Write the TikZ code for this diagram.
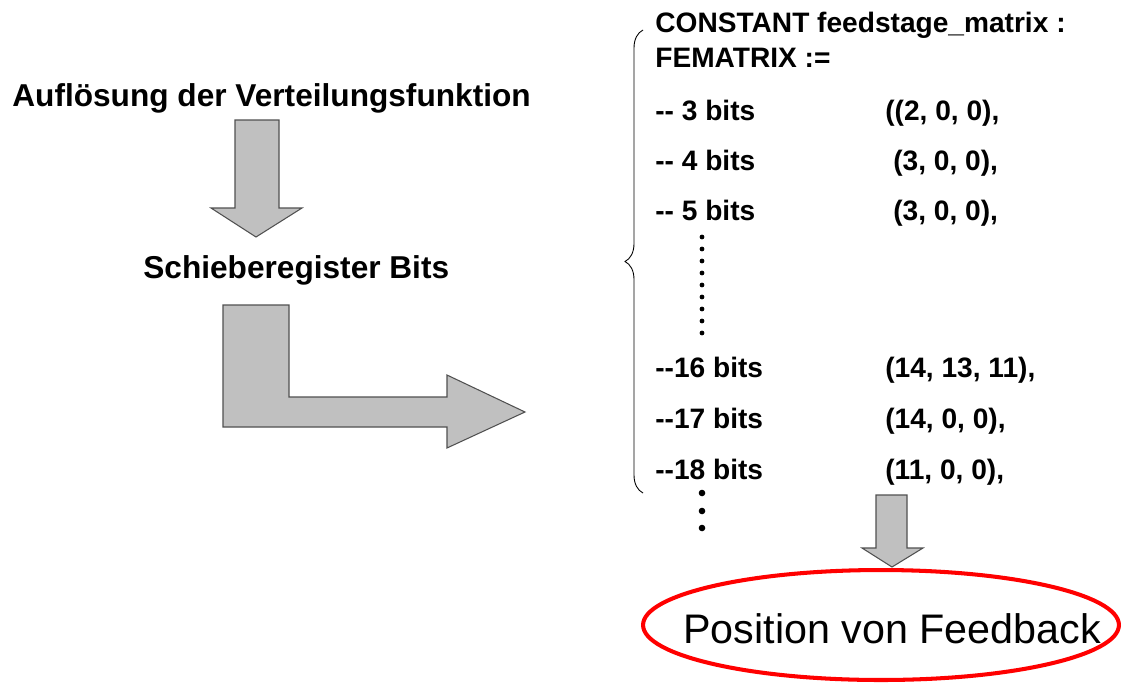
\documentclass[tikz,border=0pt]{standalone}
\usepackage{fontspec}
\setmainfont{Liberation Sans}
\usetikzlibrary{decorations.pathreplacing}
\definecolor{arrgray}{RGB}{192,192,192}
\definecolor{arredge}{RGB}{80,80,80}
\definecolor{ovalred}{RGB}{255,0,0}

\begin{document}
\begin{tikzpicture}[x=0.02cm,y=-0.02cm,
  blockarrow/.style={fill=arrgray,draw=arredge,line width=0.6pt},
  headline/.style={font=\bfseries\fontsize{18}{20}\selectfont,inner sep=0pt,anchor=base west},
  codeline/.style={font=\bfseries\fontsize{16}{18}\selectfont,inner sep=0pt,anchor=base west}]
  \useasboundingbox (0,0) rectangle (1122,684);
  % left side
  \node[headline] (aufl) at (12,106) {Auflösung der Verteilungsfunktion};
  \node[headline] (schieb) at (143,278) {Schieberegister Bits};
  \draw[blockarrow] (235,120) -- (279,120) -- (279,208) -- (302,208) -- (256,237)
    -- (211,208) -- (235,208) -- cycle;
  \draw[blockarrow] (223,305) -- (289,305) -- (289,397) -- (447,397) -- (447,375)
    -- (525,412) -- (447,448) -- (447,427) -- (223,427) -- cycle;
  % right side: the matrix
  \draw[decorate,decoration={brace,amplitude=0.36cm},line width=0.5pt] (643,493) -- (643,30);
  \node[codeline] (const) at (655,32) {CONSTANT feedstage\_matrix :};
  \node[codeline] (femat) at (655,67) {FEMATRIX :=};
  \node[codeline] (b3) at (655,120) {-{}- 3 bits};
  \node[codeline] (b4) at (655,170) {-{}- 4 bits};
  \node[codeline] (b5) at (655,220) {-{}- 5 bits};
  \node[codeline] (b16) at (655,377) {-{}-16 bits};
  \node[codeline] (b17) at (655,428) {-{}-17 bits};
  \node[codeline] (b18) at (655,479) {-{}-18 bits};
  \node[codeline] (v3) at (885,120) {((2, 0, 0),};
  \node[codeline] (v4) at (893,170) {(3, 0, 0),};
  \node[codeline] (v5) at (893,220) {(3, 0, 0),};
  \node[codeline] (v16) at (885,377) {(14, 13, 11),};
  \node[codeline] (v17) at (885,428) {(14, 0, 0),};
  \node[codeline] (v18) at (885,479) {(11, 0, 0),};
  \foreach \yy in {237,249,261,273,285,297,309,321,333}
    \fill (702,\yy) circle (2.4);
  \foreach \yy in {493,511,528}
    \fill (702,\yy) circle (3.3);
  % result
  \draw[blockarrow] (876,495) -- (907,495) -- (907,548) -- (923,548) -- (892,567)
    -- (862,548) -- (876,548) -- cycle;
  \draw[ovalred,line width=2.3pt] (881,625) ellipse [x radius=4.76cm,y radius=1.1cm];
  \node[inner sep=0pt,anchor=base west,font=\fontsize{23.5}{26}\selectfont] (pos) at (683,643) {Position von Feedback};
\end{tikzpicture}
\end{document}
